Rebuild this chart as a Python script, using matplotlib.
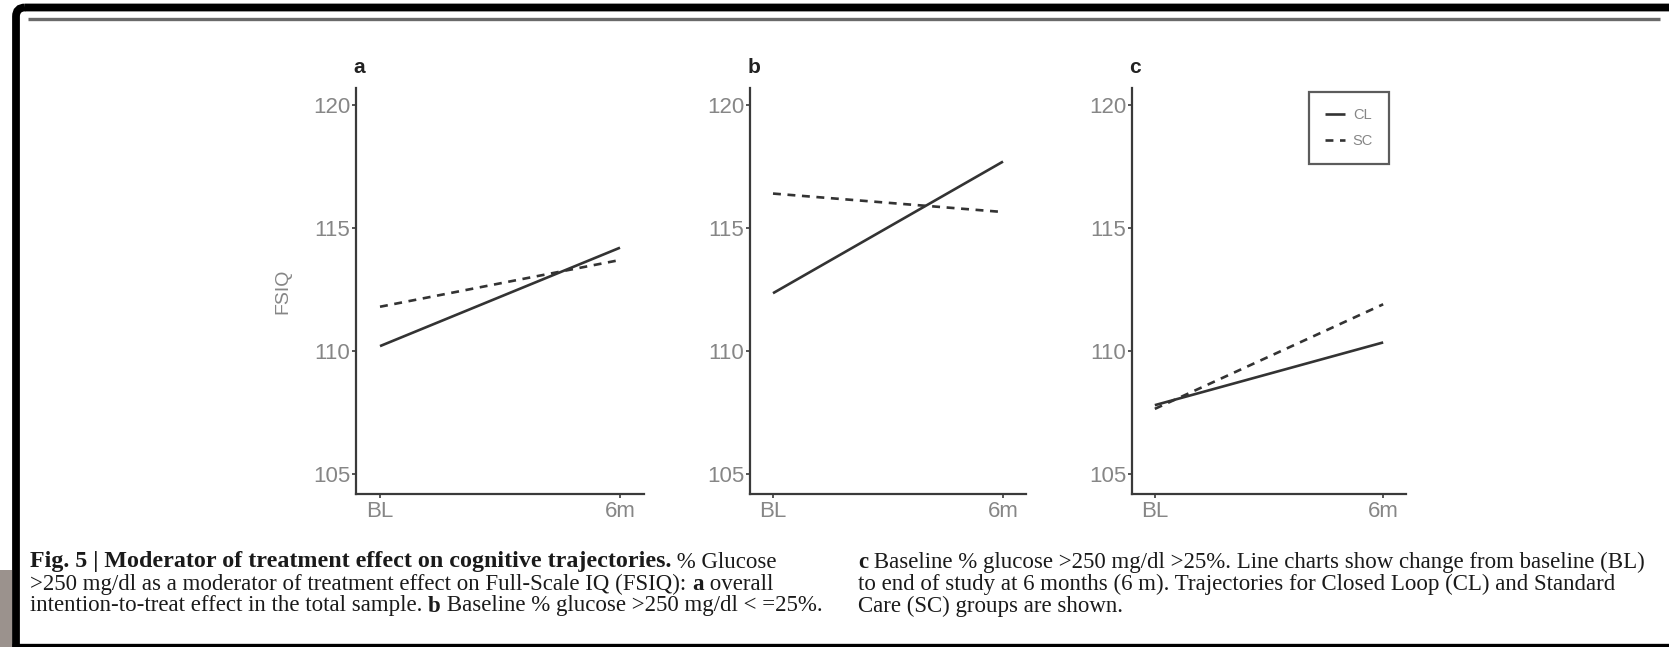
import matplotlib
matplotlib.use("Agg")
import matplotlib.pyplot as plt
from matplotlib.patches import Rectangle, FancyBboxPatch

# Dane
czasy = ["BL", "6m"]
panele = ["a", "b", "c"]
cl_a = [110.2, 114.2]
sc_a = [111.8, 113.7]
cl_b = [112.35, 117.7]
sc_b = [116.4, 115.65]
cl_c = [107.8, 110.35]
sc_c = [107.65, 111.9]
seria_cl = [cl_a, cl_b, cl_c]
seria_sc = [sc_a, sc_b, sc_c]
yticki = [105, 110, 115, 120]

W, H = 1669, 647
fig = plt.figure(figsize=(W / 100, H / 100), dpi=100)

def fx(px):
    return px / W

def fy(py):
    return 1 - py / H

# Ramka zrzutu ekranu
tlo = fig.add_axes([0, 0, 1, 1])
tlo.set_xlim(0, W)
tlo.set_ylim(H, 0)
tlo.set_autoscale_on(False)
tlo.axis("off")
tlo.add_patch(Rectangle((0, 570), 12, 80, color="#9b928d", lw=0))
tlo.add_patch(FancyBboxPatch((16, 7.5), 3000, 3000, boxstyle="round,pad=0,rounding_size=9",
                             fill=False, ec="black", lw=5.6))
tlo.plot([12, W], [644.5, 644.5], color="black", lw=2.4, solid_capstyle="butt")
tlo.plot([28, 1660], [19, 19], color="#6a6a6a", lw=2.4, solid_capstyle="butt")

# Pozycje paneli (w pikselach)
pozycje = [(356, 644), (750, 1026), (1132, 1406)]
gora, dol = 88, 494
szary = "#868686"
ciemny = "#3a3a3a"

osie = []
for i, (lewo, prawo) in enumerate(pozycje):
    ax = fig.add_axes([fx(lewo), fy(dol), fx(prawo - lewo), (dol - gora) / H])
    x = list(range(len(czasy)))
    ax.plot(x, seria_cl[i], color="#333333", lw=1.9, label="CL", solid_capstyle="butt")
    ax.plot(x, seria_sc[i], color="#333333", lw=1.9, ls=(0, (3, 2.5)), label="SC")
    ax.set_xlim(-0.1, 1.1)
    ax.set_ylim(104.19, 120.69)
    ax.set_xticks(x)
    ax.set_xticklabels(czasy)
    ax.set_yticks(yticki)
    for s in ["top", "right"]:
        ax.spines[s].set_visible(False)
    for s in ["left", "bottom"]:
        ax.spines[s].set_color(ciemny)
        ax.spines[s].set_linewidth(1.6)
    ax.tick_params(colors=ciemny, labelcolor=szary, labelsize=16, length=3, width=1.2)
    ax.tick_params(axis="y", pad=1)
    ax.tick_params(axis="x", pad=2)
    for t in ax.get_xticklabels() + ax.get_yticklabels():
        t.set_family("Liberation Sans")
    ax.set_title(panele[i], loc="left", fontsize=15, fontweight="bold",
                 family="Liberation Sans", color="#222222", pad=10.5, x=-0.01)
    osie.append(ax)

osie[0].set_ylabel("FSIQ", fontsize=14, color=szary, family="Liberation Sans", labelpad=16)

leg = osie[2].legend(loc="upper left", bbox_to_anchor=(fx(1309), fy(92)),
                     bbox_transform=fig.transFigure, borderaxespad=0, fontsize=10.5,
                     frameon=True, fancybox=False, edgecolor="#333333", handlelength=1.4,
                     handletextpad=0.5, labelspacing=0.85, borderpad=1.1)
leg.get_frame().set_linewidth(1.6)
for t in leg.get_texts():
    t.set_color(szary)
    t.set_family("Liberation Sans")

# Podpis rysunku
renderer = fig.canvas.get_renderer()
rodzina = "Liberation Serif"
rozmiar = 16.5

def linia(px, py, kawalki):
    xx = px
    for tekst, waga, skala in kawalki:
        t = fig.text(fx(xx), fy(py), tekst, fontsize=rozmiar * skala, family=rodzina,
                     fontweight=waga, va="center", ha="left", color="#1a1a1a")
        xx += t.get_window_extent(renderer).width

linia(30, 562, [("Fig. 5 | Moderator of treatment effect on cognitive trajectories.", "bold", 1.05),
                (" % Glucose", "normal", 1)])
linia(30, 584, [(">250 mg/dl as a moderator of treatment effect on Full-Scale IQ (FSIQ): ", "normal", 1),
                ("a", "bold", 1), (" overall", "normal", 1)])
linia(30, 606, [("intention-to-treat effect in the total sample. ", "normal", 1),
                ("b", "bold", 1), (" Baseline % glucose >250 mg/dl < =25%.", "normal", 1)])
linia(858, 562, [("c", "bold", 1),
                 (" Baseline % glucose >250 mg/dl >25%. Line charts show change from baseline (BL)", "normal", 1)])
linia(858, 584, [("to end of study at 6 months (6 m). Trajectories for Closed Loop (CL) and Standard", "normal", 1)])
linia(858, 606, [("Care (SC) groups are shown.", "normal", 1)])

fig.savefig("out.png", dpi=100)
